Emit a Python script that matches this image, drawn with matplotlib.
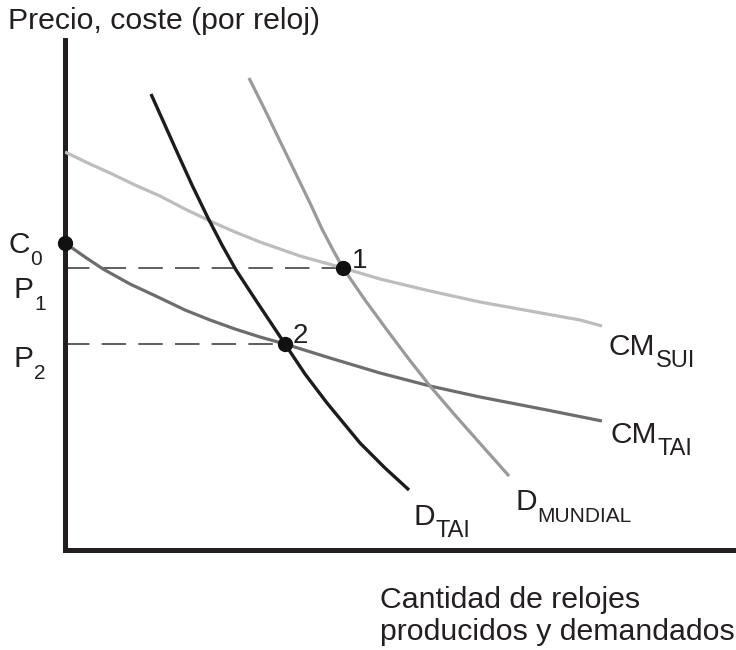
import matplotlib
matplotlib.use("Agg")
import matplotlib.pyplot as plt
from matplotlib.transforms import IdentityTransform

plt.rcParams['font.family'] = ['Liberation Sans', 'DejaVu Sans']

# curves (quantity, price), origin at the axes corner
cm_sui_x = [0, 25, 45, 70, 95, 120, 145, 170, 195, 235, 278, 315, 365, 415, 465, 515, 537]
cm_sui_y = [398, 386, 377, 365, 354, 341, 329, 318, 308, 294, 282, 271, 259, 248, 239, 230, 224]

cm_tai_x = [0, 20, 38, 65, 95, 120, 145, 170, 195, 220, 265, 315, 365, 415, 482, 537]
cm_tai_y = [307, 293, 281, 266, 252, 240, 230, 221, 213, 206, 192, 177, 164, 153, 140, 129]

d_tai_x = [86, 99, 112, 127, 143, 157, 171, 192, 220, 240, 262, 295, 320, 344]
d_tai_y = [456, 427, 398, 365, 332, 305, 280, 248, 206, 176, 147, 107, 82, 60]

d_mun_x = [184, 199, 213, 229, 245, 257, 268, 278, 300, 322, 343, 365, 389, 412, 444]
d_mun_y = [472, 442, 413, 380, 347, 321, 300, 282, 250, 220, 192, 164, 136, 110, 74]

# equilibrium points
c0 = (0, 307)
p1 = (278, 282)
p2 = (220, 206)

TXT = '#231f20'

fig = plt.figure(figsize=(7.36, 6.5), dpi=100)
ax = fig.add_axes([65 / 736, 100 / 650, 671 / 736, 510 / 650])
ax.set_xlim(0, 671)
ax.set_ylim(0, 510)
ax.patch.set_visible(False)
for s in ['top', 'right']:
    ax.spines[s].set_visible(False)
for s in ['left', 'bottom']:
    ax.spines[s].set_linewidth(3.6)
    ax.spines[s].set_color(TXT)
    ax.spines[s].set_capstyle('projecting')
ax.set_xticks([])
ax.set_yticks([])

# dashed guides to the price axis
ax.plot([0, p1[0]], [p1[1], p1[1]], color='#333333', lw=1.1, dashes=(16, 8), zorder=2)
ax.plot([0, p2[0]], [p2[1], p2[1]], color='#333333', lw=1.1, dashes=(16, 8), zorder=2)

kw = dict(solid_capstyle='butt', solid_joinstyle='round')
ax.plot(cm_sui_x, cm_sui_y, color='#bdbdbd', lw=2.3, zorder=3, **kw)
ax.plot(cm_tai_x, cm_tai_y, color='#6d6d6d', lw=2.3, zorder=3, **kw)
ax.plot(d_mun_x, d_mun_y, color='#9a9a9a', lw=2.3, zorder=3, **kw)
ax.plot(d_tai_x, d_tai_y, color='#1c1c1c', lw=2.4, zorder=4, **kw)

for pt in [c0, p1, p2]:
    ax.plot(*pt, 'o', color='#111111', ms=10, clip_on=False, zorder=6)

fig.canvas.draw()
r = fig.canvas.get_renderer()


def label(x, y, main, sub, size=21.5, subsize=16, drop=12):
    t = ax.text(x, y, main, fontsize=size, va='baseline', ha='left', color=TXT)
    bb = t.get_window_extent(renderer=r)
    yd = ax.transData.transform((x, y))[1] - drop
    ax.text(bb.x1 + 1, yd, sub, fontsize=subsize, va='baseline', ha='left',
            color=TXT, transform=IdentityTransform())


label(-57, 297, 'C', '0', subsize=15)
label(-52, 252, 'P', '1', subsize=15)
label(-52, 183, 'P', '2', subsize=15)
label(543, 195, 'CM', 'SUI', subsize=17)
label(545, 107, 'CM', 'TAI', subsize=17)
label(348, 25, 'D', 'TAI', subsize=17)
label(450, 40, 'D', 'MUNDIAL', subsize=15)

ax.text(287, 282, '1', fontsize=20, va='baseline', ha='left', color=TXT)
ax.text(228, 207, '2', fontsize=20, va='baseline', ha='left', color=TXT)

ax.text(-57, 529, 'Precio, coste (por reloj)', fontsize=21.8, va='center', ha='left', color=TXT)
ax.text(315, -58, 'Cantidad de relojes', fontsize=21.8, va='baseline', ha='left', color=TXT)
ax.text(315, -90, 'producidos y demandados', fontsize=21.8, va='baseline', ha='left', color=TXT)

fig.savefig('out.png', dpi=100)
